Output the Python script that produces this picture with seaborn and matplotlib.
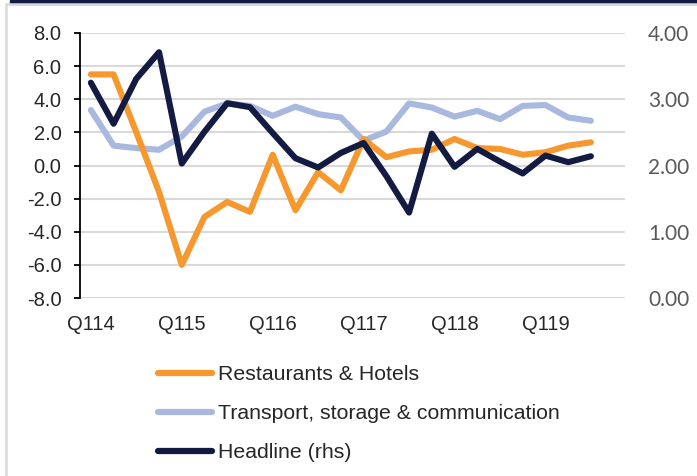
import matplotlib
matplotlib.use("Agg")
import matplotlib.pyplot as plt
import matplotlib.transforms as mtransforms
import seaborn as sns
import pandas as pd
from matplotlib.patches import Rectangle
from matplotlib.lines import Line2D

# quarters Q114 .. Q419 (last quarter has no data yet)
quarters = [f"Q{q}{y}" for y in range(14, 20) for q in range(1, 5)]
restaurants = [5.5, 5.5, 2.0, -1.6, -6.0, -3.1, -2.2, -2.8, 0.65, -2.7, -0.4, -1.5,
               1.6, 0.5, 0.85, 0.95, 1.6, 1.05, 1.0, 0.65, 0.8, 1.2, 1.4, None]
transport = [3.35, 1.2, 1.05, 0.95, 1.75, 3.25, 3.75, 3.6, 3.0, 3.55, 3.1, 2.9,
             1.5, 2.05, 3.75, 3.5, 2.95, 3.3, 2.8, 3.6, 3.65, 2.9, 2.7, None]
headline = [3.25, 2.63, 3.31, 3.71, 2.03, 2.51, 2.94, 2.88, 2.49, 2.11, 1.97, 2.19,
            2.34, 1.84, 1.29, 2.48, 1.98, 2.25, 2.06, 1.88, 2.15, 2.05, 2.14, None]
tick_labels = ["Q114", "Q115", "Q116", "Q117", "Q118", "Q119"]

orange = "#F7982F"
light_blue = "#A8B8DF"
navy = "#131B42"

df = pd.DataFrame({"x": range(len(quarters)), "rest": restaurants,
                   "trans": transport, "head": headline}).astype(float)

sns.set_style("white")
plt.rcParams["font.family"] = ["Liberation Sans", "DejaVu Sans"]

fig = plt.figure(figsize=(6.97, 4.76), dpi=100)
ax = fig.add_axes([79.5 / 697, 1 - 298 / 476, (625 - 79.5) / 697, (298 - 33) / 476])
ax2 = ax.twinx()

for y in range(-8, 9, 2):
    ax.axhline(y, color="#D9D9D9", lw=1.5, zorder=0)

sns.lineplot(data=df, x="x", y="trans", ax=ax, color=light_blue, lw=4.4, zorder=2)
sns.lineplot(data=df, x="x", y="rest", ax=ax, color=orange, lw=4.4, zorder=3)
sns.lineplot(data=df, x="x", y="head", ax=ax2, color=navy, lw=4.4, zorder=4)

ax.set_xlim(-0.5, len(quarters) - 0.5)
ax.set_ylim(-8, 8)
ax2.set_ylim(0, 4)
ax.set_xticks(range(0, len(quarters), 4))
ax.set_xticklabels(tick_labels, fontsize=14.5)
ax.set_yticks(range(-8, 9, 2))
ax.set_yticklabels([f"{v:.1f}" for v in range(-8, 9, 2)], fontsize=14.5)
ax2.set_yticks([0, 1, 2, 3, 4])
ax2.set_yticklabels([f"{v:.2f}" for v in range(5)], fontsize=15,
                    color="#595959", family="Lato")
ax.set_xlabel("")
ax.set_ylabel("")
ax2.set_ylabel("")

# Excel-style label offset: category labels sit slightly left of the points
shift = mtransforms.ScaledTranslation(-5 / 100, 0, fig.dpi_scale_trans)
for lbl in ax.get_xticklabels():
    lbl.set_transform(lbl.get_transform() + shift)

for a in (ax, ax2):
    for s in ("top", "right", "bottom"):
        a.spines[s].set_visible(False)
ax2.spines["left"].set_visible(False)
ax.spines["left"].set_color("black")
ax.spines["left"].set_linewidth(1.3)
ax.tick_params(axis="y", left=True, length=4, width=1.3, color="black", pad=9)
ax.tick_params(axis="x", bottom=False, pad=9)
ax2.tick_params(axis="y", right=False, pad=13)

handles = [Line2D([], [], color=orange, lw=4.5, solid_capstyle="round"),
           Line2D([], [], color=light_blue, lw=4.5, solid_capstyle="round"),
           Line2D([], [], color=navy, lw=4.5, solid_capstyle="round")]
labels = ["Restaurants & Hotels", "Transport, storage & communication", "Headline (rhs)"]
fig.legend(handles, labels, loc="upper left", bbox_to_anchor=(158 / 697, 1 - 365 / 476),
           frameon=False, fontsize=15.3, handlelength=2.55, handletextpad=0.25,
           labelspacing=0.95, borderpad=0, borderaxespad=0)

# panel frame
fig.patches.append(Rectangle((10 / 697, 1 - 4 / 476), 1, 4 / 476,
                             transform=fig.transFigure, color="#131B42", zorder=0))
fig.patches.append(Rectangle((5.5 / 697, -0.01), 1, 1 - 4.5 / 476 + 0.01,
                             transform=fig.transFigure, fill=False,
                             edgecolor="#D9D9D9", lw=1.8, zorder=0))

fig.savefig("out.png", dpi=100)
